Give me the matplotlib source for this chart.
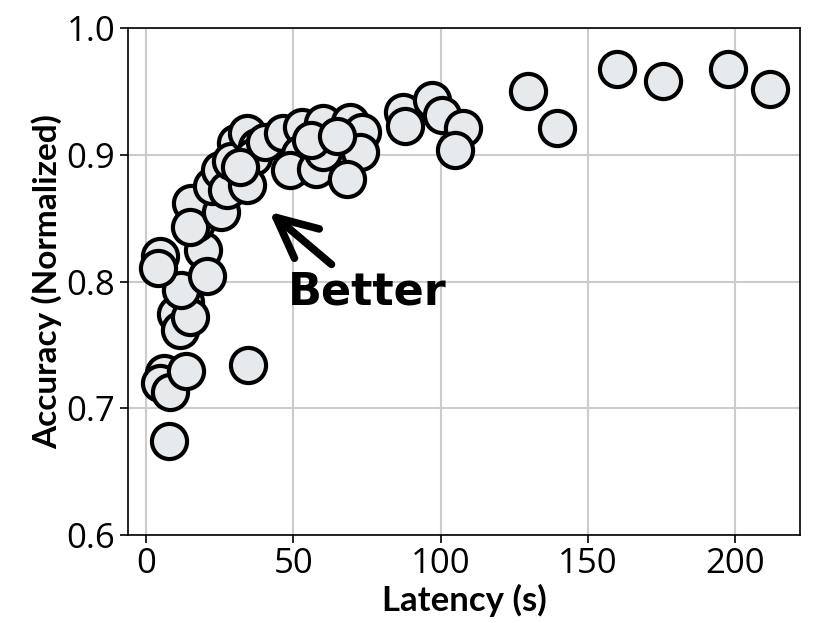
import matplotlib
matplotlib.use("Agg")
import matplotlib.pyplot as plt

latency = [7.8, 6.1, 4.8, 8.1, 13.6, 34.6,
           13.2, 10.4, 11.5, 14.9, 12.1, 4.8, 4.1, 19.5, 20.6, 17.2, 15.5, 15.0,
           25.4, 22.5, 25.1, 27.5, 30.5, 29.0, 34.2, 37.6, 36.5, 34.2, 32.0, 40.5,
           46.6, 52.9, 52.3, 48.9, 57.9, 60.2, 60.2, 56.0, 69.2, 73.2, 72.6, 68.1, 65.0,
           87.3, 87.9, 97.0, 100.4, 107.7, 104.9, 129.8, 139.4, 160.0, 175.4, 197.7, 211.8]
accuracy = [0.674, 0.728, 0.720, 0.713, 0.729, 0.734,
            0.784, 0.774, 0.762, 0.772, 0.793, 0.820, 0.811, 0.825, 0.804, 0.846, 0.862, 0.843,
            0.855, 0.875, 0.888, 0.872, 0.909, 0.895, 0.917, 0.906, 0.898, 0.876, 0.890, 0.910,
            0.917, 0.922, 0.901, 0.888, 0.889, 0.925, 0.902, 0.912, 0.926, 0.918, 0.902, 0.881, 0.915,
            0.934, 0.923, 0.943, 0.931, 0.921, 0.904, 0.950, 0.921, 0.968, 0.958, 0.968, 0.952]

xticks = [0, 50, 100, 150, 200]
yticks = [0.6, 0.7, 0.8, 0.9, 1.0]

fig = plt.figure(figsize=(8.3, 6.23), dpi=100)
ax = fig.add_axes([0.154, 0.1413, 0.81, 0.8137])

ax.scatter(latency, accuracy, s=640,
           facecolor='#e7eaed', edgecolor='black', linewidths=3, zorder=3)

ax.set_xlim(-6.1, 222)
ax.set_ylim(0.6, 1.0)
ax.set_xticks(xticks)
ax.set_yticks(yticks)
ax.set_xticklabels([str(t) for t in xticks], fontfamily='Open Sans', fontsize=25)
ax.set_yticklabels([f"{t:.1f}" for t in yticks], fontfamily='Open Sans', fontsize=25)
ax.tick_params(length=6, width=1.2, pad=3)
ax.grid(True, color='#cccccc', linewidth=1.5, zorder=0)
ax.set_axisbelow(True)
for sp in ax.spines.values():
    sp.set_linewidth(1.2)

ax.set_xlabel('Latency (s)', fontfamily='Lato', fontweight='bold', fontsize=25, labelpad=2)
ax.set_ylabel('Accuracy (Normalized)', fontfamily='Lato', fontweight='bold', fontsize=24, labelpad=3)

ax.annotate('', xy=(41.9, 0.855), xytext=(63.0, 0.8135),
            arrowprops=dict(arrowstyle='->,head_length=1.45,head_width=0.69',
                            mutation_scale=20, lw=5.5, color='black',
                            shrinkA=0, shrinkB=0, capstyle='round', joinstyle='round'),
            zorder=4)
ax.text(48.3, 0.7815, 'Better', fontfamily='DejaVu Sans', fontweight='bold', fontsize=32,
        ha='left', va='baseline', zorder=4)

fig.savefig('out.png', dpi=100)
